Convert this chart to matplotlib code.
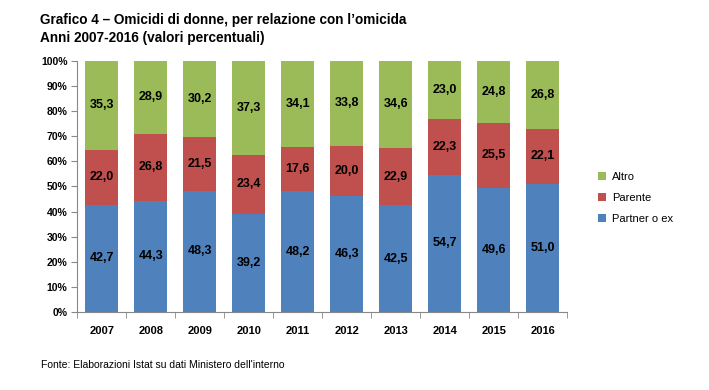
import matplotlib

matplotlib.use("Agg")
import matplotlib.pyplot as plt
import numpy as np

plt.rcParams["font.family"] = ["Liberation Sans", "DejaVu Sans"]

# Data (percent)
years = ["2007", "2008", "2009", "2010", "2011", "2012", "2013", "2014", "2015", "2016"]
partner = [42.7, 44.3, 48.3, 39.2, 48.2, 46.3, 42.5, 54.7, 49.6, 51.0]
parente = [22.0, 26.8, 21.5, 23.4, 17.6, 20.0, 22.9, 22.3, 25.5, 22.1]
altro = [35.3, 28.9, 30.2, 37.3, 34.1, 33.8, 34.6, 23.0, 24.8, 26.8]

colors = {"Partner o ex": "#4F81BD", "Parente": "#C0504D", "Altro": "#9BBB59"}

fig = plt.figure(figsize=(7.09, 3.9), dpi=100)
ax = fig.add_axes([0.109, 0.2, 0.691, 0.6436])

x = np.arange(len(years))
w = 0.67
bottom = np.zeros(len(years))
handles = []
for name, vals in [("Partner o ex", partner), ("Parente", parente), ("Altro", altro)]:
    vals = np.array(vals)
    b = ax.bar(x, vals, w, bottom=bottom, color=colors[name], label=name)
    handles.append(b)
    for xi, bi, v in zip(x, bottom, vals):
        ax.text(xi, bi + v / 2, f"{v:.1f}".replace(".", ","), ha="center", va="center",
                fontsize=9, fontweight="bold", color="black")
    bottom = bottom + vals

ax.set_xlim(-0.5, len(years) - 0.5)
ax.set_ylim(0, 100)
ax.set_yticks(range(0, 101, 10))
ax.set_yticklabels([f"{v}%" for v in range(0, 101, 10)], fontsize=7.5, fontweight="bold")
ax.set_xticks(x)
ax.set_xticklabels(years, fontsize=8, fontweight="bold")
ax.set_xticks(np.arange(-0.5, len(years), 1), minor=True)
ax.tick_params(axis="x", which="major", length=0, pad=10)
ax.tick_params(axis="x", which="minor", length=4, color="#888888")
ax.tick_params(axis="y", length=4, color="#888888", pad=3)
for s in ["top", "right"]:
    ax.spines[s].set_visible(False)
for s in ["left", "bottom"]:
    ax.spines[s].set_color("#888888")
    ax.spines[s].set_linewidth(0.8)

# legend in reverse order
fig.legend(handles[::-1], ["Altro", "Parente", "Partner o ex"], loc="upper left",
           bbox_to_anchor=(0.83, 0.585), frameon=False, fontsize=8,
           handlelength=0.7, handleheight=0.7, labelspacing=1.0, handletextpad=0.5)

fig.text(0.057, 0.948, "Grafico 4 \u2013 Omicidi di donne, per relazione con l\u2019omicida",
         fontsize=9.8, fontweight="bold", va="center")
fig.text(0.057, 0.902, "Anni 2007-2016 (valori percentuali)", fontsize=9.8, fontweight="bold", va="center")
fig.text(0.058, 0.064, "Fonte: Elaborazioni Istat su dati Ministero dell'interno", fontsize=7.5, va="center")

fig.savefig("out.png", dpi=100)
plt.close(fig)
